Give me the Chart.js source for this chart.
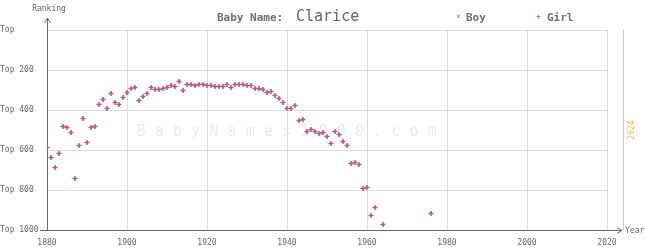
<!DOCTYPE html>
<html>
<head>
<meta charset="utf-8">
<script src="https://cdn.jsdelivr.net/npm/chart.js@4.4.1/dist/chart.umd.min.js"></script>
<style>
  html, body { margin: 0; padding: 0; background: #fff; }
  #wrap { width: 645px; height: 250px; }
</style>
</head>
<body>
<div id="wrap"><canvas id="chart" width="645" height="250"></canvas></div>
<script>
const babyName = 'Clarice';
const currentYear = 2024;
const watermark = 'BabyNames1000.com';

// rank by year, girls (boys never ranked)
const girlYears = [
  1880, 1881, 1882, 1883, 1884, 1885, 1886, 1887, 1888, 1889,
  1890, 1891, 1892, 1893, 1894, 1895, 1896, 1897, 1898, 1899,
  1900, 1901, 1902, 1903, 1904, 1905, 1906, 1907, 1908, 1909,
  1910, 1911, 1912, 1913, 1914, 1915, 1916, 1917, 1918, 1919,
  1920, 1921, 1922, 1923, 1924, 1925, 1926, 1927, 1928, 1929,
  1930, 1931, 1932, 1933, 1934, 1935, 1936, 1937, 1938, 1939,
  1940, 1941, 1942, 1943, 1944, 1945, 1946, 1947, 1948, 1949,
  1950, 1951, 1952, 1953, 1954, 1955, 1956, 1957, 1958, 1959,
  1960, 1961, 1962, 1964, 1976
];
const girlRanks = [
  587, 637, 687, 617, 482, 487, 512, 742, 577, 442,
  562, 487, 482, 372, 347, 392, 317, 362, 372, 337,
  312, 292, 287, 352, 332, 317, 287, 297, 297, 292,
  287, 277, 282, 257, 302, 272, 272, 277, 272, 272,
  277, 277, 282, 282, 282, 272, 287, 272, 272, 272,
  277, 277, 292, 292, 297, 312, 307, 327, 342, 362,
  392, 392, 377, 452, 447, 507, 497, 507, 517, 512,
  532, 567, 507, 522, 557, 577, 667, 662, 672, 792,
  787, 927, 887, 972, 917
];
const boyYears = [];
const boyRanks = [];

const yearMin = 1880, yearMax = 2020, yearStep = 20;
const rankMin = 0, rankMax = 1000, rankStep = 200;

const girlColor = '#b5557f';
const boyColor = '#8a8aa8';
const textColor = '#666';
const mono = '"DejaVu Sans Mono", "Liberation Mono", monospace';

const toPoints = (xs, ys) => xs.map((x, i) => ({ x: x, y: ys[i] }));

// axes with arrows, title, legend, watermark, current-year marker
const decor = {
  id: 'decor',
  beforeDatasetsDraw(chart) {
    const { ctx, chartArea: a, scales } = chart;
    ctx.save();

    // watermark
    ctx.fillStyle = '#ececec';
    ctx.font = '15px ' + mono;
    ctx.textAlign = 'center';
    ctx.textBaseline = 'middle';
    [...watermark].forEach((ch, i) => ctx.fillText(ch, 141 + i * 18.2, 132));

    // current year line
    const cx = Math.round(scales.x.getPixelForValue(currentYear)) + 0.5;
    ctx.strokeStyle = '#f2d43a';
    ctx.lineWidth = 1;
    ctx.beginPath();
    ctx.moveTo(cx, a.top);
    ctx.lineTo(cx, a.bottom);
    ctx.stroke();
    ctx.save();
    ctx.translate(cx + 8, (a.top + a.bottom) / 2);
    ctx.rotate(-Math.PI / 2);
    ctx.fillStyle = '#eacb2a';
    ctx.font = '8px ' + mono;
    ctx.fillText(String(currentYear), 0, 0);
    ctx.restore();

    // axes
    const lx = a.left + 0.5, by = a.bottom + 0.5;
    ctx.strokeStyle = '#6a6a6a';
    ctx.lineWidth = 1;
    ctx.beginPath();
    ctx.moveTo(lx, by);
    ctx.lineTo(lx, a.top - 12);
    ctx.moveTo(lx - 3, a.top - 7);
    ctx.lineTo(lx, a.top - 12);
    ctx.lineTo(lx + 3, a.top - 7);
    ctx.moveTo(a.left - 7, by);
    ctx.lineTo(a.right + 15, by);
    ctx.moveTo(a.right + 10, by - 3);
    ctx.lineTo(a.right + 15, by);
    ctx.lineTo(a.right + 10, by + 3);
    ctx.stroke();

    ctx.fillStyle = textColor;
    ctx.font = '8px ' + mono;
    ctx.textAlign = 'center';
    ctx.fillText('Ranking', a.left + 2, 9);
    ctx.textAlign = 'left';
    ctx.fillText('Year', a.right + 18, by);

    // title
    ctx.textAlign = 'left';
    ctx.fillStyle = '#707070';
    ctx.font = 'bold 11px ' + mono;
    ctx.fillText('Baby Name:', 217, 18);
    ctx.fillStyle = '#666';
    ctx.font = '15px ' + mono;
    ctx.fillText(babyName, 296, 17);

    // legend
    ctx.font = '8px ' + mono;
    ctx.fillStyle = boyColor;
    ctx.fillText('\u00d7', 456, 17);
    ctx.fillStyle = girlColor;
    ctx.fillText('+', 536, 17);
    ctx.fillStyle = '#707070';
    ctx.font = 'bold 11px ' + mono;
    ctx.fillText('Boy', 466, 18);
    ctx.fillText('Girl', 547, 18);

    ctx.restore();
  }
};

new Chart(document.getElementById('chart'), {
  type: 'scatter',
  data: {
    datasets: [
      {
        label: 'Boy',
        data: toPoints(boyYears, boyRanks),
        pointStyle: 'crossRot',
        borderColor: boyColor,
        backgroundColor: boyColor,
        pointRadius: 2.5,
        borderWidth: 1.5
      },
      {
        label: 'Girl',
        data: toPoints(girlYears, girlRanks),
        pointStyle: 'cross',
        borderColor: girlColor,
        backgroundColor: girlColor,
        pointRadius: 2.5,
        borderWidth: 1.5
      }
    ]
  },
  options: {
    responsive: false,
    animation: false,
    devicePixelRatio: 1,
    layout: { padding: { top: 30, right: 38, left: 0, bottom: 0 } },
    plugins: {
      legend: { display: false },
      title: { display: false },
      tooltip: { enabled: false }
    },
    scales: {
      x: {
        type: 'linear',
        min: yearMin,
        max: yearMax,
        afterFit: (s) => { s.height = 20; },
        border: { display: false },
        grid: { color: '#dcdcdc', drawTicks: false },
        ticks: {
          stepSize: yearStep,
          padding: 8,
          color: textColor,
          font: { family: mono, size: 8 },
          callback: (v) => String(v)
        }
      },
      y: {
        type: 'linear',
        reverse: true,
        min: rankMin,
        max: rankMax,
        afterFit: (s) => { s.width = 47; },
        border: { display: false },
        grid: { color: '#dcdcdc', drawTicks: false },
        ticks: {
          stepSize: rankStep,
          crossAlign: 'far',
          color: textColor,
          font: { family: mono, size: 8 },
          callback: (v) => v === 0 ? 'Top' : 'Top ' + v
        }
      }
    }
  },
  plugins: [decor]
});
</script>
</body>
</html>
